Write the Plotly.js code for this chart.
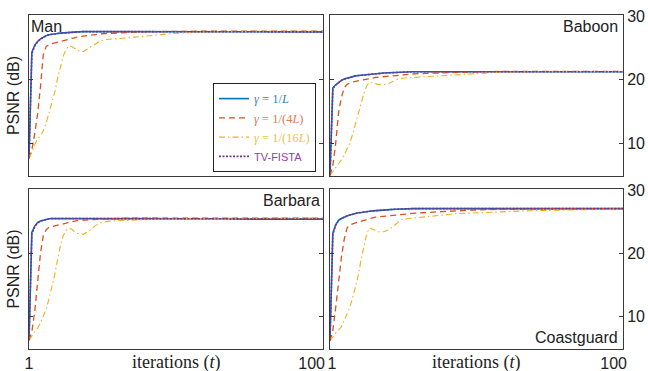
<!DOCTYPE html>
<html>
<head>
<meta charset="utf-8">
<script src="https://cdn.plot.ly/plotly-3.0.1.min.js"></script>
<style>html,body{margin:0;padding:0;background:#fff;}#chart{width:648px;height:371px;}</style>
</head>
<body>
<div id="chart"></div>
<script>
// iterations (x values shared by all series)
const iterations = [1,2,3,4,5,6,7,8,9,10,11,12,13,14,15,16,17,18,20,22,24,26,28,30,35,40,45,50,60,70,80,90,100,104];

// Panel names
const panels = ["Man", "Baboon", "Barbara", "Coastguard"];

// Man
const manL    = [7.7,24.3,25.4,26.0,26.4,26.7,26.9,27.05,27.15,27.2,27.25,27.3,27.35,27.4,27.45,27.45,27.5,27.5,27.55,27.55,27.55,27.55,27.55,27.55,27.55,27.55,27.55,27.55,27.55,27.55,27.55,27.5,27.5,27.5];
const man4L   = [7.7,9.0,11.5,14.6,18.8,23.9,25.2,25.5,25.65,25.75,25.85,25.95,26.05,26.2,26.35,26.5,26.6,26.7,26.85,26.95,27.1,27.2,27.25,27.3,27.45,27.5,27.55,27.6,27.6,27.6,27.6,27.6,27.6,27.6];
const man16L  = [7.7,8.6,9.8,10.7,11.2,12.0,13.2,14.8,16.3,18.0,20.2,22.2,23.7,24.8,25.3,25.2,24.85,24.6,24.4,24.95,25.6,26.1,26.3,26.4,26.55,26.75,26.95,27.2,27.45,27.55,27.6,27.6,27.6,27.6];
const manFista= [7.7,24.1,25.3,25.95,26.35,26.65,26.9,27.05,27.15,27.2,27.25,27.3,27.35,27.4,27.45,27.45,27.5,27.5,27.55,27.55,27.55,27.55,27.55,27.55,27.55,27.55,27.55,27.55,27.55,27.55,27.55,27.5,27.5,27.5];

// Baboon
const babL    = [5.0,18.7,19.2,19.6,19.9,20.1,20.25,20.4,20.5,20.6,20.65,20.7,20.75,20.85,20.9,20.95,21.0,21.0,21.05,21.1,21.15,21.2,21.2,21.25,21.25,21.25,21.25,21.25,21.25,21.25,21.25,21.25,21.25,21.25];
const bab4L   = [5.0,6.5,10.0,14.8,17.2,18.7,19.3,19.5,19.65,19.75,19.85,19.95,20.05,20.1,20.2,20.3,20.35,20.4,20.5,20.6,20.7,20.75,20.8,20.9,21.0,21.1,21.15,21.2,21.3,21.3,21.3,21.3,21.3,21.3];
const bab16L  = [5.0,5.6,6.2,6.8,7.4,8.2,9.1,10.1,11.5,13.2,14.8,16.5,18.0,19.1,19.6,19.5,19.35,19.25,19.2,19.5,19.95,20.2,20.3,20.35,20.45,20.55,20.7,20.85,21.15,21.25,21.3,21.3,21.3,21.3];
const babFista= [5.0,18.6,19.15,19.55,19.9,20.1,20.25,20.4,20.5,20.6,20.65,20.7,20.75,20.85,20.9,20.95,21.0,21.0,21.05,21.1,21.15,21.2,21.2,21.25,21.25,21.25,21.25,21.25,21.25,21.25,21.25,21.25,21.25,21.25];

// Barbara
const barL    = [6.3,23.3,24.3,24.85,25.1,25.25,25.35,25.45,25.5,25.5,25.55,25.55,25.55,25.55,25.55,25.55,25.55,25.55,25.55,25.55,25.55,25.55,25.55,25.55,25.55,25.5,25.5,25.5,25.45,25.45,25.4,25.4,25.4,25.4];
const bar4L   = [6.3,7.6,10.8,16.0,19.9,22.8,23.7,24.1,24.2,24.3,24.35,24.45,24.6,24.75,24.9,25.0,25.1,25.15,25.25,25.3,25.35,25.4,25.45,25.5,25.55,25.55,25.55,25.55,25.55,25.55,25.55,25.55,25.55,25.55];
const bar16L  = [6.3,6.9,7.5,8.2,9.0,10.0,11.2,12.8,14.6,16.6,19.0,21.2,22.8,23.6,24.0,23.8,23.4,23.15,23.0,23.5,24.3,24.8,25.0,25.1,25.2,25.3,25.4,25.45,25.5,25.55,25.55,25.55,25.55,25.55];
const barFista= [6.3,23.1,24.2,24.8,25.1,25.25,25.35,25.45,25.5,25.5,25.55,25.55,25.55,25.55,25.55,25.55,25.55,25.55,25.55,25.55,25.55,25.55,25.55,25.55,25.55,25.5,25.5,25.5,25.45,25.45,25.4,25.4,25.4,25.4];

// Coastguard
const coaL    = [6.2,23.2,24.5,25.2,25.5,25.75,25.9,26.05,26.2,26.3,26.4,26.45,26.55,26.6,26.65,26.7,26.75,26.8,26.85,26.9,26.95,27.0,27.0,27.05,27.05,27.05,27.05,27.05,27.05,27.05,27.05,27.05,27.05,27.05];
const coa4L   = [6.2,7.8,11.4,15.4,19.3,22.2,24.0,24.5,24.7,24.8,24.95,25.1,25.25,25.4,25.5,25.6,25.7,25.75,25.85,25.95,26.05,26.15,26.2,26.3,26.45,26.6,26.7,26.8,26.95,27.05,27.05,27.05,27.05,27.05];
const coa16L  = [6.2,6.9,7.4,7.9,8.4,9.4,10.4,11.5,13.0,14.6,16.6,19.2,21.4,23.2,24.0,23.85,23.6,23.4,23.4,23.8,24.6,25.3,25.45,25.55,25.8,26.1,26.25,26.35,26.55,26.7,26.8,26.9,27.0,27.0];
const coaFista= [6.2,23.0,24.4,25.15,25.5,25.75,25.9,26.05,26.2,26.3,26.4,26.45,26.55,26.6,26.65,26.7,26.75,26.8,26.85,26.9,26.95,27.0,27.0,27.05,27.05,27.05,27.05,27.05,27.05,27.05,27.05,27.05,27.05,27.05];

// Tick labels
const xTickVals = [1, 100];
const xTickText = ["1", "100"];
const yTickVals = [10, 20, 30];
const yTickText = ["10", "20", "30"];

const seriesNames = [
  '<span style="color:#2f86c8"><i>γ</i> = 1/<i>L</i></span>',
  '<span style="color:#e07a50"><i>γ</i> = 1/(4<i>L</i>)</span>',
  '<span style="color:#f0c050"><i>γ</i> = 1/(16<i>L</i>)</span>',
  '<span style="color:#8e44a0;font-family:Liberation Sans;font-size:11px">TV-FISTA</span>'
];
const colors = ["#0072BD", "#D95319", "#EDB120", "#7E2F8E"];
const dashes = ["solid", "6px,4px", "6px,3px,1.5px,3px", "2px,1.5px"];
const widths = [1.6, 1.3, 1.1, 1.6];

const panelData = [
  [manL, man4L, man16L, manFista],
  [babL, bab4L, bab16L, babFista],
  [barL, bar4L, bar16L, barFista],
  [coaL, coa4L, coa16L, coaFista]
];

const traces = [];
panelData.forEach((set, p) => {
  const sfx = p === 0 ? "" : String(p + 1);
  set.forEach((vals, s) => {
    traces.push({
      x: iterations, y: vals, type: "scatter", mode: "lines",
      xaxis: "x" + sfx, yaxis: "y" + sfx,
      name: seriesNames[s],
      showlegend: p === 0,
      line: {color: colors[s], dash: dashes[s], width: widths[s]},
      hoverinfo: "skip"
    });
  });
});

const sans = "Liberation Sans, Arial, Helvetica, sans-serif";
const serif = "Liberation Serif, Times New Roman, serif";
const axisColor = "#3a3a3a";

function xax(domain, anchor, showLabels, shift) {
  return {
    domain: domain, anchor: anchor, range: [1, 104],
    showline: true, mirror: true, linecolor: axisColor, linewidth: 1,
    showgrid: false, zeroline: false, ticks: "",
    tickmode: "array", tickvals: xTickVals, ticktext: xTickText,
    showticklabels: showLabels, ticklabelshift: shift || 0,
    tickfont: {family: sans, size: 16, color: "#222"}
  };
}
function yax(domain, anchor, right) {
  const a = {
    domain: domain, anchor: anchor, range: [4.9, 30.15],
    side: right ? "right" : "left",
    showline: true, mirror: "ticks", linecolor: axisColor, linewidth: 1,
    showgrid: false, zeroline: false, ticks: "inside", ticklen: 4, tickcolor: axisColor,
    tickmode: "array", tickvals: yTickVals, ticktext: yTickText,
    showticklabels: right,
    tickfont: {family: sans, size: 16, color: "#222"}
  };
  if (!right) a.title = {text: "PSNR (dB)", font: {family: sans, size: 16, color: "#222"}, standoff: 4};
  return a;
}

const xL = [0, 0.495], xR = [0.5067, 1];
const yT = [0.518, 1], yB = [0, 0.479];

const layout = {
  width: 648, height: 371,
  margin: {l: 29, r: 25, t: 15, b: 22},
  paper_bgcolor: "#fff", plot_bgcolor: "#fff",
  showlegend: true,
  font: {family: sans, size: 14, color: "#222"},
  xaxis: xax(xL, "y", false),
  yaxis: yax(yT, "x", false),
  xaxis2: xax(xR, "y2", false),
  yaxis2: yax(yT, "x2", true),
  xaxis3: xax(xL, "y3", true, 0),
  yaxis3: yax(yB, "x3", false),
  xaxis4: xax(xR, "y4", true, 2),
  yaxis4: yax(yB, "x4", true),
  legend: {
    x: 0.4832, y: 0.53, xanchor: "right", yanchor: "bottom",
    bgcolor: "#fff", bordercolor: "#222", borderwidth: 1,
    font: {family: serif, size: 12.5, color: "#222"},
    itemwidth: 30, tracegroupgap: 0
  },
  annotations: [
    {text: panels[0], xref: "x domain", yref: "y domain", x: 0, y: 1, xanchor: "left", yanchor: "top", xshift: 0, yshift: -1, showarrow: false, font: {family: sans, size: 16, color: "#222"}},
    {text: panels[1], xref: "x2 domain", yref: "y2 domain", x: 1, y: 1, xanchor: "right", yanchor: "top", xshift: -3, yshift: -1, showarrow: false, font: {family: sans, size: 16, color: "#222"}},
    {text: panels[2], xref: "x3 domain", yref: "y3 domain", x: 1, y: 1, xanchor: "right", yanchor: "top", xshift: -1, yshift: -1, showarrow: false, font: {family: sans, size: 16, color: "#222"}},
    {text: panels[3], xref: "x4 domain", yref: "y4 domain", x: 1, y: 0, xanchor: "right", yanchor: "bottom", xshift: -3, yshift: 1, showarrow: false, font: {family: sans, size: 16, color: "#222"}},
    {text: "iterations (<i>t</i>)", xref: "x3 domain", yref: "paper", x: 0.5, y: -0.039, xanchor: "center", yanchor: "middle", showarrow: false, font: {family: serif, size: 18, color: "#222"}},
    {text: "iterations (<i>t</i>)", xref: "x4 domain", yref: "paper", x: 0.5, y: -0.039, xanchor: "center", yanchor: "middle", showarrow: false, font: {family: serif, size: 18, color: "#222"}}
  ]
};

Plotly.newPlot("chart", traces, layout, {staticPlot: true, displayModeBar: false});
</script>
</body>
</html>
